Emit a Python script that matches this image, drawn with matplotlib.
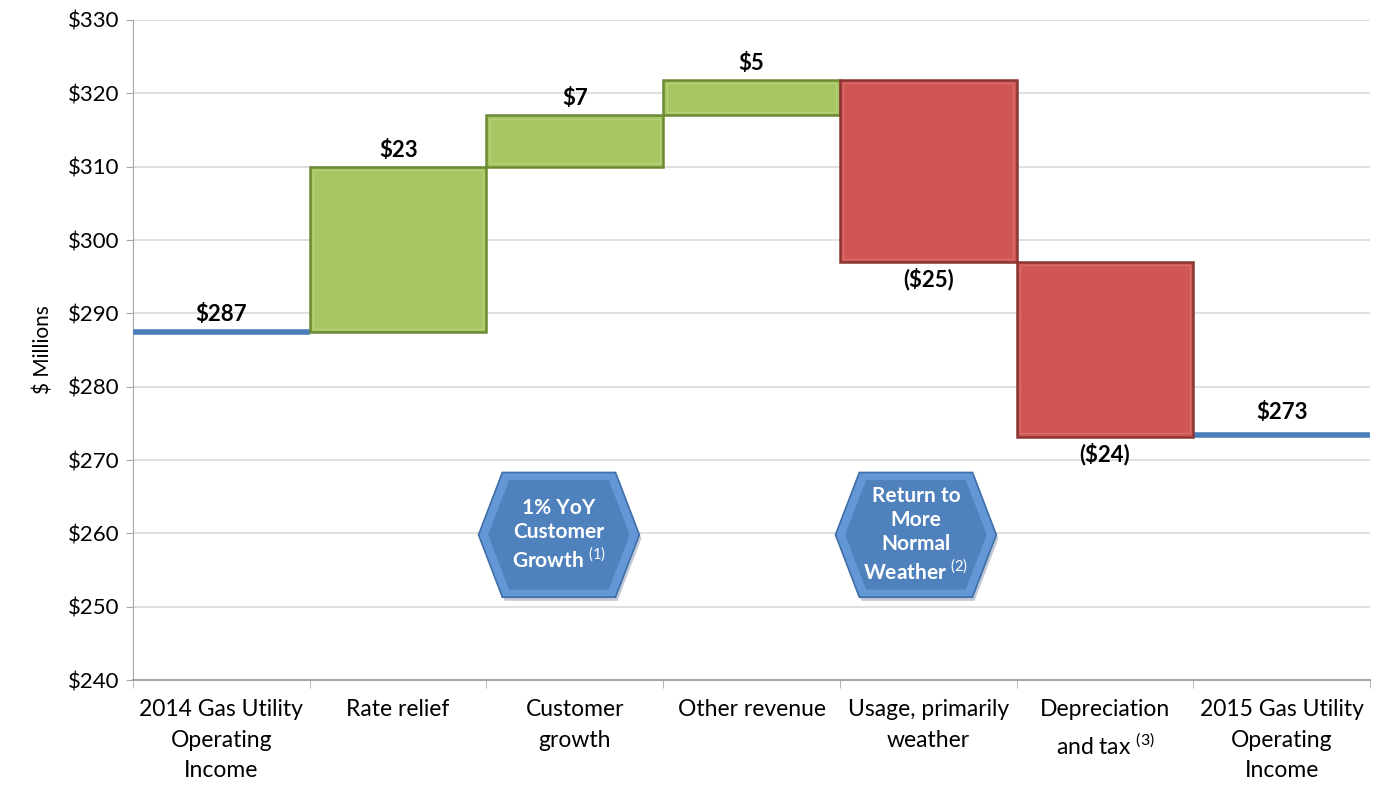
import matplotlib
matplotlib.use("Agg")
import matplotlib.pyplot as plt
from matplotlib.patches import Polygon
import numpy as np

plt.rcParams['font.family'] = ['Lato', 'DejaVu Sans']
plt.rcParams['mathtext.fontset'] = 'custom'
plt.rcParams['mathtext.rm'] = 'Lato'
plt.rcParams['mathtext.bf'] = 'Lato:bold'

categories = ["2014 Gas Utility\nOperating\nIncome", "Rate relief", "Customer\ngrowth",
              "Other revenue", "Usage, primarily\nweather", "Depreciation\nand tax $^{\\mathrm{(3)}}$",
              "2015 Gas Utility\nOperating\nIncome"]
start_value = 287.4
deltas = [22.6, 7.0, 4.8, -24.8, -23.8]
end_value = 273.4
value_labels = ["$287", "$23", "$7", "$5", "($25)", "($24)", "$273"]
yticks = [240, 250, 260, 270, 280, 290, 300, 310, 320, 330]
callouts = ["1% YoY\nCustomer\nGrowth $^{\\mathrm{(1)}}$", "Return to\nMore\nNormal\nWeather $^{\\mathrm{(2)}}$"]
callout_cats = [2, 4]

fig = plt.figure(figsize=(13.8, 7.9), dpi=100)
ax = fig.add_axes([0.0964, 0.1392, 0.8964, 0.8355])
ax.set_xlim(-0.5, 6.5)
ax.set_ylim(240, 330)

ax.set_yticks(yticks)
ax.set_yticklabels([f"${v}" for v in yticks], fontsize=16)
ax.yaxis.grid(True, color='#D9D9D9', linewidth=1.2)
ax.set_axisbelow(True)
for s in ['top', 'right']:
    ax.spines[s].set_visible(False)
ax.spines['left'].set_color('#A6A6A6')
ax.spines['bottom'].set_color('#A6A6A6')
ax.spines['bottom'].set_linewidth(1.5)
ax.tick_params(axis='y', length=5, color='#A6A6A6', pad=5)
ax.set_ylabel("$ Millions", fontsize=15, labelpad=10)

ax.set_xticks(np.arange(len(categories)))
ax.set_xticklabels(categories, fontsize=16.5, va='top', linespacing=1.55)
ax.tick_params(axis='x', length=0, pad=14)
ax.set_xticks(np.arange(-0.5, len(categories)), minor=True)
ax.tick_params(axis='x', which='minor', length=6, color='#A6A6A6')

# start / end lines
ax.hlines(start_value, -0.5, 0.5, color='#4A7EBB', linewidth=4, zorder=3)
ax.hlines(end_value, 5.5, 6.5, color='#4A7EBB', linewidth=4, zorder=3)

cum = start_value
for i, d in enumerate(deltas):
    x = i + 1
    bottom = cum if d > 0 else cum + d
    face = '#A5C663' if d > 0 else '#CF5653'
    edge = '#6B8A33' if d > 0 else '#8A3533'
    light = '#BFD783' if d > 0 else '#DE7876'
    ax.bar(x, abs(d), bottom=bottom, width=1.0, color=face, edgecolor=edge, linewidth=1.8, zorder=3)
    ax.bar(x, abs(d) - 0.9, bottom=bottom + 0.45, width=0.96, color='none',
           edgecolor=light, linewidth=1.0, zorder=4, alpha=0.7)
    if d > 0:
        ax.text(x, cum + d + 0.8, value_labels[x], ha='center', va='bottom', fontsize=16, fontweight='bold')
    else:
        ax.text(x, cum + d - 0.8, value_labels[x], ha='center', va='top', fontsize=16, fontweight='bold')
    cum += d

ax.text(0, start_value + 1.0, value_labels[0], ha='center', va='bottom', fontsize=16, fontweight='bold')
ax.text(6, end_value + 1.6, value_labels[6], ha='center', va='bottom', fontsize=16, fontweight='bold')

# hexagon callouts
offsets = [-0.09, -0.07]
for txt, c, off in zip(callouts, callout_cats, offsets):
    cx, cy = c + off, 259.8
    hw, fw, hh = 0.455, 0.32, 8.5
    pts = [(cx - hw, cy), (cx - fw, cy + hh), (cx + fw, cy + hh), (cx + hw, cy),
           (cx + fw, cy - hh), (cx - fw, cy - hh)]
    shadow = [(px + 0.012, py - 0.5) for px, py in pts]
    ax.add_patch(Polygon(shadow, closed=True, facecolor='#9AA6B8', edgecolor='none', zorder=4, alpha=0.6))
    ax.add_patch(Polygon(pts, closed=True, facecolor='#6397D6', edgecolor='#3F6EA8', linewidth=1.2, zorder=5))
    inner = [(cx + (px - cx) * 0.88, cy + (py - cy) * 0.88) for px, py in pts]
    ax.add_patch(Polygon(inner, closed=True, facecolor='#4F81BD', edgecolor='none', zorder=6))
    ax.text(cx, cy, txt, ha='center', va='center', fontsize=15, fontweight='bold',
            color='white', zorder=7, linespacing=1.25)

fig.savefig("out.png", dpi=100)
